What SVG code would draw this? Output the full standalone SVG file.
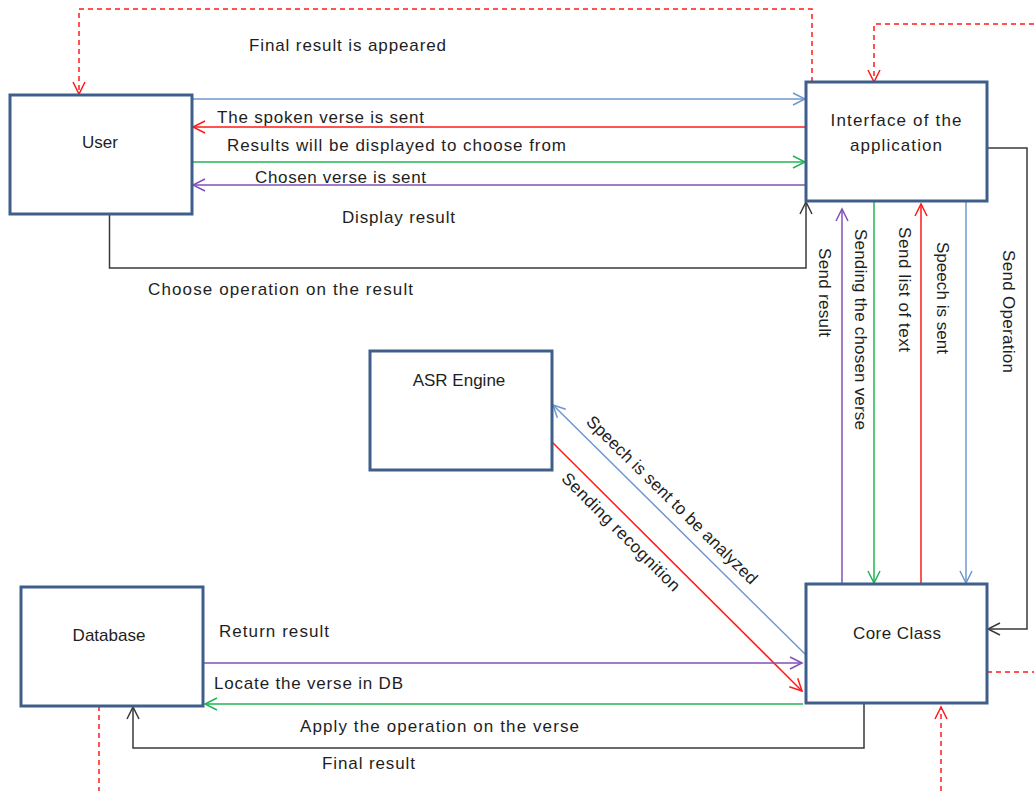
<svg xmlns="http://www.w3.org/2000/svg" width="1034" height="791" viewBox="0 0 1034 791">
<style>
text{font-family:"Liberation Sans",Arial,sans-serif;font-size:17px;fill:#1e1e1e}
.box{fill:#fff;stroke:#3e5f8a;stroke-width:3}
.c{fill:none;stroke-width:1.5}
.blue{stroke:#7097cd}
.red{stroke:#ff1a1a}
.green{stroke:#23b455}
.purple{stroke:#8050b8}
.black{stroke:#3a3a3a}
.dash{stroke:#ff1a1a;stroke-dasharray:5 4}
.mid{text-anchor:middle}
</style>
<defs>
<marker id="aBlue" markerUnits="userSpaceOnUse" markerWidth="14" markerHeight="14" viewBox="0 0 14 14" refX="13" refY="7" orient="auto" overflow="visible"><path d="M1,1 L13,7 L1,13" fill="none" stroke="#7097cd" stroke-width="1.5"/></marker>
<marker id="aRed" markerUnits="userSpaceOnUse" markerWidth="14" markerHeight="14" viewBox="0 0 14 14" refX="13" refY="7" orient="auto" overflow="visible"><path d="M1,1 L13,7 L1,13" fill="none" stroke="#ff1a1a" stroke-width="1.5"/></marker>
<marker id="aGreen" markerUnits="userSpaceOnUse" markerWidth="14" markerHeight="14" viewBox="0 0 14 14" refX="13" refY="7" orient="auto" overflow="visible"><path d="M1,1 L13,7 L1,13" fill="none" stroke="#23b455" stroke-width="1.5"/></marker>
<marker id="aPurple" markerUnits="userSpaceOnUse" markerWidth="14" markerHeight="14" viewBox="0 0 14 14" refX="13" refY="7" orient="auto" overflow="visible"><path d="M1,1 L13,7 L1,13" fill="none" stroke="#8050b8" stroke-width="1.5"/></marker>
<marker id="aBlack" markerUnits="userSpaceOnUse" markerWidth="14" markerHeight="14" viewBox="0 0 14 14" refX="13" refY="7" orient="auto" overflow="visible"><path d="M1,1 L13,7 L1,13" fill="none" stroke="#3a3a3a" stroke-width="1.5"/></marker>
</defs>

<g id="connectors">
<path class="c blue" d="M192,99 H805" marker-end="url(#aBlue)"/>
<path class="c red" d="M806,127 H193" marker-end="url(#aRed)"/>
<path class="c green" d="M192,162 H805" marker-end="url(#aGreen)"/>
<path class="c purple" d="M806,185 H193" marker-end="url(#aPurple)"/>
<path class="c black" d="M109.5,214 V268 H806 V202" marker-end="url(#aBlack)"/>
<path class="c purple" d="M842,584 V209" marker-end="url(#aPurple)"/>
<path class="c green" d="M874,201 V583" marker-end="url(#aGreen)"/>
<path class="c red" d="M921,584 V204" marker-end="url(#aRed)"/>
<path class="c blue" d="M966,201 V583" marker-end="url(#aBlue)"/>
<path class="c black" d="M987,148 H1027 V629 H988" marker-end="url(#aBlack)"/>
<path class="c dash" d="M812,82 V9 H79 V94" marker-end="url(#aRed)"/>
<path class="c dash" d="M1034,24 H874 V82" marker-end="url(#aRed)"/>
<path class="c dash" d="M987,672 H1034"/>
<path class="c dash" d="M941,791 V707" marker-end="url(#aRed)"/>
<path class="c dash" d="M99,706 V791"/>
<path class="c blue" d="M806,655 L553,405" marker-end="url(#aBlue)"/>
<path class="c red" d="M552,442 L802,691" marker-end="url(#aRed)"/>
<path class="c purple" d="M202,663 H802" marker-end="url(#aPurple)"/>
<path class="c green" d="M803,704 H205" marker-end="url(#aGreen)"/>
<path class="c black" d="M864,703 V748 H133 V707" marker-end="url(#aBlack)"/>

<text x="249" y="51" textLength="197" lengthAdjust="spacing">Final result is appeared</text>
<text x="217" y="122.5" textLength="207" lengthAdjust="spacing">The spoken verse is sent</text>
<text x="227" y="150.5" textLength="339" lengthAdjust="spacing">Results will be displayed to choose from</text>
<text x="255" y="183" textLength="171" lengthAdjust="spacing">Chosen verse is sent</text>
<text x="342" y="223" textLength="113" lengthAdjust="spacing">Display result</text>
<text x="148" y="295" textLength="265" lengthAdjust="spacing">Choose operation on the result</text>
<text transform="translate(819,248) rotate(90)" textLength="89" lengthAdjust="spacing">Send result</text>
<text transform="translate(855,229) rotate(90)" textLength="201" lengthAdjust="spacing">Sending the chosen verse</text>
<text transform="translate(899,227) rotate(90)" textLength="125" lengthAdjust="spacing">Send list of text</text>
<text transform="translate(936.5,242) rotate(90)" textLength="112" lengthAdjust="spacing">Speech is sent</text>
<text transform="translate(1003,250) rotate(90)" textLength="123" lengthAdjust="spacing">Send Operation</text>
<text class="mid" transform="translate(668,504) rotate(44.5)" textLength="232" lengthAdjust="spacing">Speech is sent to be analyzed</text>
<text class="mid" transform="translate(617,536) rotate(45)" textLength="160" lengthAdjust="spacing">Sending recognition</text>
<text x="219" y="637" textLength="110" lengthAdjust="spacing">Return result</text>
<text x="214" y="689" textLength="189" lengthAdjust="spacing">Locate the verse in DB</text>
<text x="300" y="731.5" textLength="279" lengthAdjust="spacing">Apply the operation on the verse</text>
<text x="322" y="769" textLength="93" lengthAdjust="spacing">Final result</text>
</g>

<g id="user">
<rect class="box" x="10" y="95" width="182" height="119"/>
<text class="mid" x="100" y="147.5">User</text>
</g>
<g id="interface">
<rect class="box" x="806" y="82" width="181" height="119"/>
<text class="mid" x="896" y="125.5" textLength="131" lengthAdjust="spacing">Interface of the</text>
<text class="mid" x="896" y="150.5" textLength="92" lengthAdjust="spacing">application</text>
</g>
<g id="asr">
<rect class="box" x="370" y="351" width="182" height="119"/>
<text class="mid" x="459" y="385.5">ASR Engine</text>
</g>
<g id="database">
<rect class="box" x="21" y="587" width="182" height="119"/>
<text class="mid" x="109" y="640.5">Database</text>
</g>
<g id="core">
<rect class="box" x="806" y="584" width="181" height="119"/>
<text class="mid" x="897" y="639" textLength="88" lengthAdjust="spacing">Core Class</text>
</g>
</svg>
